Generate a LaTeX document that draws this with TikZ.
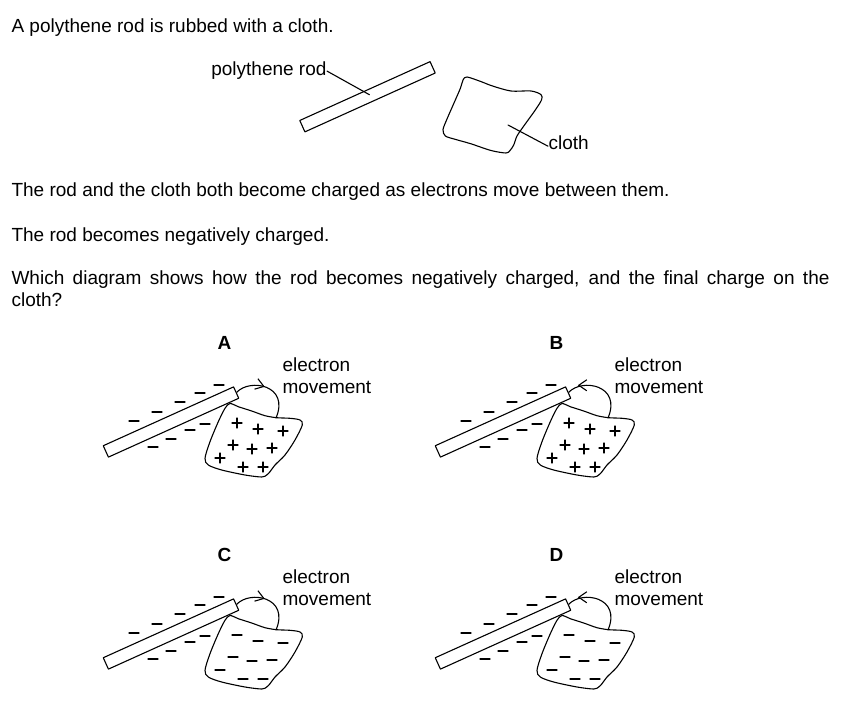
\documentclass[tikz,border=0pt]{standalone}
\usepackage{fontspec}
\setmainfont{Liberation Sans}
\usetikzlibrary{calc,arrows.meta,decorations.markings}
\tikzset{every node/.style={inner sep=0pt,font=\fontsize{19}{23}\selectfont},every path/.style={line width=1.1pt,line cap=round,line join=round},
  rodbox/.style={draw,fill=white,rotate=24.3,minimum width=143pt,minimum height=12.5pt},
  sign/.style={line width=1.3pt},
  fwd/.style={postaction={decorate,decoration={markings,mark=at position .44 with {\arrow{>}}}}},
  bwd/.style={postaction={decorate,decoration={markings,mark=at position .3 with {\arrow{<}}}}}}

\begin{document}
\begin{tikzpicture}[x=1pt,y=-1pt,>={Straight Barb[length=8pt,width=11pt,line width=1.1pt]}]
  \useasboundingbox (0,0) rectangle (856,708);
  \node[anchor=base west] (line1) at (11,33) {A polythene rod is rubbed with a cloth.};
  \node[rodbox] (rod) at (367.5,96.75) {};
  \node[anchor=base east] (rodlabel) at (327,76) {polythene rod};
  \draw (rodlabel.east) -- ([shift={(2pt,2pt)}]rod.center);
  \draw plot[smooth cycle] coordinates {(467,77) (481,81.6) (492.5,86) (511,91) (531,91) (541,94.6) (541.5,100) (534.6,111) (524.5,125) (517,136) (513.7,145) (510,150.5) (506,153) (491,150.5) (470.6,143.7) (454,139) (445.4,136) (443,129.7) (447,119) (454,103) (460.5,88) (463,80)};
  \coordinate (clothpt) at (508,125);
  \node[anchor=base west] (clothlabel) at (548,150) {cloth};
  \draw (clothpt) -- ([yshift=-3pt]clothlabel.west);
  \node[anchor=base west] (line2) at (11,197) {The rod and the cloth both become charged as electrons move between them.};
  \node[anchor=base west] (line3) at (11,242) {The rod becomes negatively charged.};
  \node[anchor=base west] (line4) at (11,285) {\hbox to 818pt{Which diagram shows how the rod becomes negatively charged, and the final charge on the}};
  \node[anchor=base west] (line5) at (11,307) {cloth?};
  \foreach \lab/\dx/\dy/\sgn/\dir in {A/0/0/1/fwd, B/332/0/1/bwd, C/0/212/0/fwd, D/332/212/0/bwd}{
    \begin{scope}[shift={(\dx,\dy)}]
      \node[font=\bfseries\fontsize{19}{23}\selectfont,anchor=base] (letter\lab) at (224.5,349) {\lab};
      \node[anchor=base west] (electron\lab) at (282,371.5) {electron};
      \node[anchor=base west] (movement\lab) at (282,393) {movement};
      \draw plot[smooth cycle] coordinates {(230,403.5) (238.3,406.7) (251.7,411) (265,415.7) (276.7,417.7) (290,418.3) (300,420) (302.3,425) (295,440) (285,455) (275,465) (270,471.7) (266.7,475) (261.7,477) (245,475) (221.7,470) (208.3,465) (205,458.3) (210,441.7) (218.3,421.7) (225,408.3)};
      \node[rodbox] (rod\lab) at (171,422) {};
      \coordinate (att\lab) at (276,418);
      \draw[\dir] (rod\lab.east) .. controls (250,378) and (290,385) .. (att\lab);
      \foreach \x/\y in {219/385,200/393,180/402,157/412,134/421,205/424,190/430,171/439,153/447}
        \draw[sign] (\x-5,\y) -- (\x+5,\y);
      \foreach \x/\y in {237/423,258/429,283/431,233/445,252/449,272/448,220/458,243/467,263/467}{
        \draw[sign] (\x-5,\y) -- (\x+5,\y);
        \ifnum\sgn=1 \draw[sign] (\x,\y-5) -- (\x,\y+5); \fi
      }
    \end{scope}
  }
\end{tikzpicture}
\end{document}
